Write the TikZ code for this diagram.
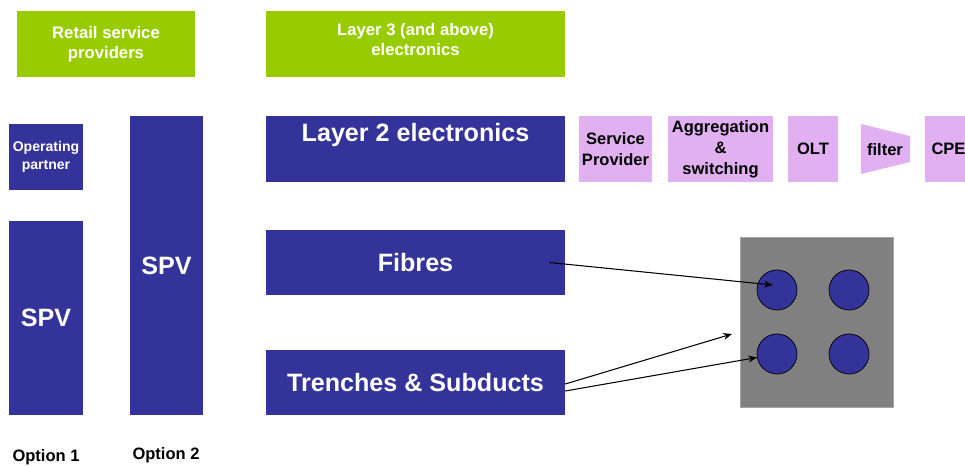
\documentclass[tikz,border=0pt]{standalone}
\usepackage{fontspec}
\setmainfont{Liberation Sans}
\usetikzlibrary{arrows.meta, calc}
\definecolor{nbnBlue}{RGB}{51, 51, 153}
\definecolor{nbnGreen}{RGB}{153, 204, 0}
\definecolor{nbnPink}{RGB}{224, 176, 240}
\definecolor{nbnGray}{RGB}{128, 128, 128}

\begin{document}
\begin{tikzpicture}[x=0.02cm, y=-0.02cm,
            greenbox/.style={rectangle, fill=nbnGreen, text=white, inner sep=0pt, align=center,
                             font=\fontsize{9.5}{11.4}\selectfont\bfseries},
            bluebox/.style={rectangle, fill=nbnBlue, text=white, inner sep=0pt, align=center,
                            font=\fontsize{14.3}{17}\selectfont\bfseries},
            pinkbox/.style={rectangle, fill=nbnPink, text=black, inner sep=0pt, align=center,
                            minimum height=1.32cm, font=\fontsize{9.4}{12}\selectfont\bfseries},
            tube/.style={circle, fill=nbnBlue, draw=black, line width=0.4pt, minimum size=0.8cm, inner sep=0pt},
            optlabel/.style={font=\fontsize{9.4}{11}\selectfont\bfseries, text=black},
            arrow/.style={-{Stealth[length=5pt, width=4pt]}, line width=0.6pt}
        ]
            \useasboundingbox (0,0) rectangle (965,466);
            \clip (0,0) rectangle (965,466);

            \node[greenbox, minimum width=3.56cm, minimum height=1.32cm] (retail) at (106,44) {Retail service\\providers};
            \node[greenbox, minimum width=5.98cm, minimum height=1.32cm] (layer3) at (415.5,44) {};
            \node[greenbox] at (415.5,40) {Layer 3 (and above)\\electronics};

            \node[bluebox, minimum width=1.48cm, minimum height=1.32cm, font=\fontsize{8}{10}\selectfont\bfseries] (oppartner) at (46,157) {Operating\\partner};
            \node[bluebox, minimum width=1.48cm, minimum height=3.88cm] (spvone) at (46,318) {SPV};
            \node[bluebox, minimum width=1.46cm, minimum height=5.98cm] (spvtwo) at (166.5,265.5) {SPV};

            \node[bluebox, minimum width=5.98cm, minimum height=1.32cm] (layer2) at (415.5,149) {};
            \node[bluebox] at (415.5,135) {Layer 2 electronics};
            \node[bluebox, minimum width=5.98cm, minimum height=1.3cm] (fibres) at (415.5,262.5) {Fibres};
            \node[bluebox, minimum width=5.98cm, minimum height=1.3cm] (trenches) at (415.5,382.5) {Trenches \& Subducts};

            \node[pinkbox, minimum width=1.46cm] (svcprov) at (615.5,149) {Service\\Provider};
            \node[pinkbox, minimum width=2.1cm] (aggr) at (720.5,149) {Aggregation\\\&\\switching};
            \node[pinkbox, minimum width=1.0cm] (olt) at (813,149) {OLT};
            \fill[nbnPink] (861,124) -- (910,136) -- (910,162) -- (861,174) -- cycle;
            \node[pinkbox, fill=none, minimum width=0.98cm, minimum height=0.5cm] (filter) at (885,150) {filter};
            \node[pinkbox, minimum width=0.94cm] (cpe) at (948.5,149) {CPE};

            % duct cross-section
            \node[rectangle, fill=nbnGray, draw=nbnGray!70, inner sep=0pt, minimum width=3.06cm, minimum height=3.4cm] (duct) at (816.5,322) {};
            \node[tube] (tube1) at (777,290) {};
            \node[tube] (tube2) at (849,290) {};
            \node[tube] (tube3) at (777,354) {};
            \node[tube] (tube4) at (849,354) {};
            \coordinate (ductfree) at (732,334);

            \draw[arrow] ($(fibres.east)+(-16,0)$) -- ($(tube1.center)+(-4,-5)$);
            \draw[arrow] ($(trenches.east)+(0,1.5)$) -- (ductfree);
            \draw[arrow] ($(trenches.east)+(0,8.5)$) -- (tube3);

            % Labels
            \node[optlabel] (opt1) at (46,457) {Option 1};
            \node[optlabel] (opt2) at (166,455) {Option 2};
        \end{tikzpicture}
\end{document}
